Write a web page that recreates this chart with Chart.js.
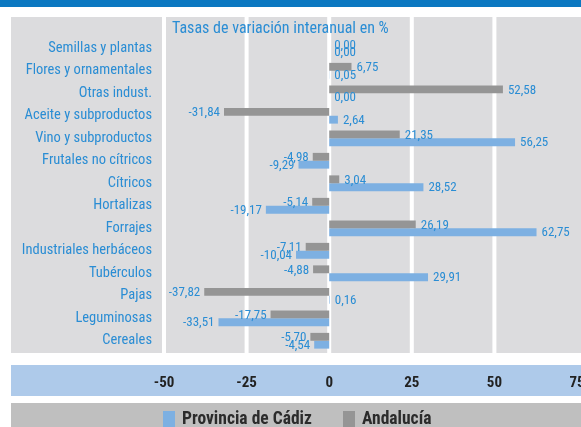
<!DOCTYPE html>
<html>
<head>
    <title>Tasas de variación interanual</title>
    <script src="https://cdn.jsdelivr.net/npm/chart.js"></script>
    <style>
        body {
            margin: 0;
            background-color: #ffffff;
        }
        #chart-container {
            width: 581px;
            height: 427px;
        }
    </style>
</head>
<body>

<div id="chart-container">
    <canvas id="tasasChart" width="581" height="427"></canvas>
</div>

<script>
// Categories, top to bottom
const categories = [
    'Semillas y plantas',
    'Flores y ornamentales',
    'Otras indust.',
    'Aceite y subproductos',
    'Vino y subproductos',
    'Frutales no cítricos',
    'Cítricos',
    'Hortalizas',
    'Forrajes',
    'Industriales herbáceos',
    'Tubérculos',
    'Pajas',
    'Leguminosas',
    'Cereales'
];

// Tasas de variación interanual en %
const cadiz = [0.00, 0.05, 0.00, 2.64, 56.25, -9.29, 28.52, -19.17, 62.75, -10.04, 29.91, 0.16, -33.51, -4.54];
const andalucia = [0.00, 6.75, 52.58, -31.84, 21.35, -4.98, 3.04, -5.14, 26.19, -7.11, -4.88, -37.82, -17.75, -5.70];

const tickValues = [-50, -25, 0, 25, 50, 75];

const narrow = "'Roboto Condensed', 'DejaVu Sans Condensed', sans-serif";
const blueText = '#2a8dd4';

function fmt(v) {
    return v.toFixed(2).replace('.', ',');
}

// Backgrounds, white grid bands, title, value labels and legend
const decorPlugin = {
    id: 'decor',
    beforeDraw(chart) {
        const ctx = chart.ctx;
        const x = chart.scales.x;
        const bottom = chart.chartArea.bottom + 1;
        ctx.save();
        ctx.fillStyle = '#ffffff';
        ctx.fillRect(0, 0, chart.width, chart.height);
        ctx.fillStyle = '#0b78c1';
        ctx.fillRect(0, 0, chart.width, 7);
        // panel
        ctx.fillStyle = '#dcdcde';
        ctx.fillRect(11, 17, chart.width - 11, bottom - 17);
        // white grid lines over the whole panel height
        ctx.fillStyle = '#ffffff';
        tickValues.forEach(v => {
            if (v === 75) return;
            const px = x.getPixelForValue(v);
            ctx.fillRect(px - 2, 17, 4, bottom - 17);
        });
        // tick band
        ctx.fillStyle = '#aecaea';
        ctx.fillRect(11, 365, chart.width - 11, 31);
        // legend band
        ctx.fillStyle = '#bfbfbf';
        ctx.fillRect(11, 403, chart.width - 11, chart.height - 403);
        // title
        ctx.fillStyle = blueText;
        ctx.font = '16px ' + narrow;
        ctx.textAlign = 'left';
        ctx.textBaseline = 'alphabetic';
        ctx.fillText('Tasas de variación interanual en %', 172, 33);
        ctx.restore();
    },
    afterDatasetsDraw(chart) {
        const ctx = chart.ctx;
        ctx.save();
        ctx.fillStyle = blueText;
        ctx.font = '13px ' + narrow;
        ctx.textBaseline = 'middle';
        chart.data.datasets.forEach((ds, i) => {
            const meta = chart.getDatasetMeta(i);
            meta.data.forEach((bar, j) => {
                const v = ds.data[j];
                if (v < 0) {
                    ctx.textAlign = 'right';
                    ctx.fillText(fmt(v), bar.x - 4, bar.y + 1);
                } else {
                    ctx.textAlign = 'left';
                    ctx.fillText(fmt(v), bar.x + 5, bar.y + 1);
                }
            });
        });

        // legend: Cádiz first, then Andalucía
        const items = [
            { ds: chart.data.datasets[1], x: 163 },
            { ds: chart.data.datasets[0], x: 343 }
        ];
        ctx.font = 'bold 17.5px ' + narrow;
        ctx.textAlign = 'left';
        ctx.textBaseline = 'middle';
        items.forEach(it => {
            ctx.fillStyle = it.ds.backgroundColor;
            ctx.fillRect(it.x, 411, 12, 16);
            ctx.fillStyle = '#2b2b2b';
            ctx.fillText(it.ds.label, it.x + 19, 420);
        });
        ctx.restore();
    }
};

const ctx = document.getElementById('tasasChart').getContext('2d');
new Chart(ctx, {
    type: 'bar',
    data: {
        labels: categories,
        datasets: [{
            label: 'Andalucía',
            data: andalucia,
            backgroundColor: '#959595',
            categoryPercentage: 0.7,
            barPercentage: 1.0
        }, {
            label: 'Provincia de Cádiz',
            data: cadiz,
            backgroundColor: '#7db0e2',
            categoryPercentage: 0.7,
            barPercentage: 1.0
        }]
    },
    options: {
        indexAxis: 'y',
        responsive: false,
        animation: false,
        layout: {
            padding: { top: 37, right: 4, bottom: 0, left: 0 }
        },
        plugins: {
            legend: { display: false },
            tooltip: { enabled: false }
        },
        scales: {
            x: {
                min: -50,
                max: 75,
                afterBuildTicks(scale) {
                    scale.ticks = tickValues.map(v => ({ value: v }));
                },
                afterFit(scale) {
                    scale.height = 75;
                    scale.paddingLeft = 0;
                    scale.paddingRight = 0;
                },
                grid: { display: false, drawTicks: false },
                border: { display: false },
                ticks: {
                    padding: 22,
                    maxRotation: 0,
                    color: '#222222',
                    font: { family: narrow, size: 15, weight: 'bold' }
                }
            },
            y: {
                afterFit(scale) {
                    scale.width = 164;
                    scale.paddingTop = 0;
                    scale.paddingBottom = 0;
                },
                grid: { display: false, drawTicks: false },
                border: { display: false },
                ticks: {
                    padding: 12,
                    color: blueText,
                    font: { family: narrow, size: 14.5 }
                }
            }
        }
    },
    plugins: [decorPlugin]
});
</script>

</body>
</html>
